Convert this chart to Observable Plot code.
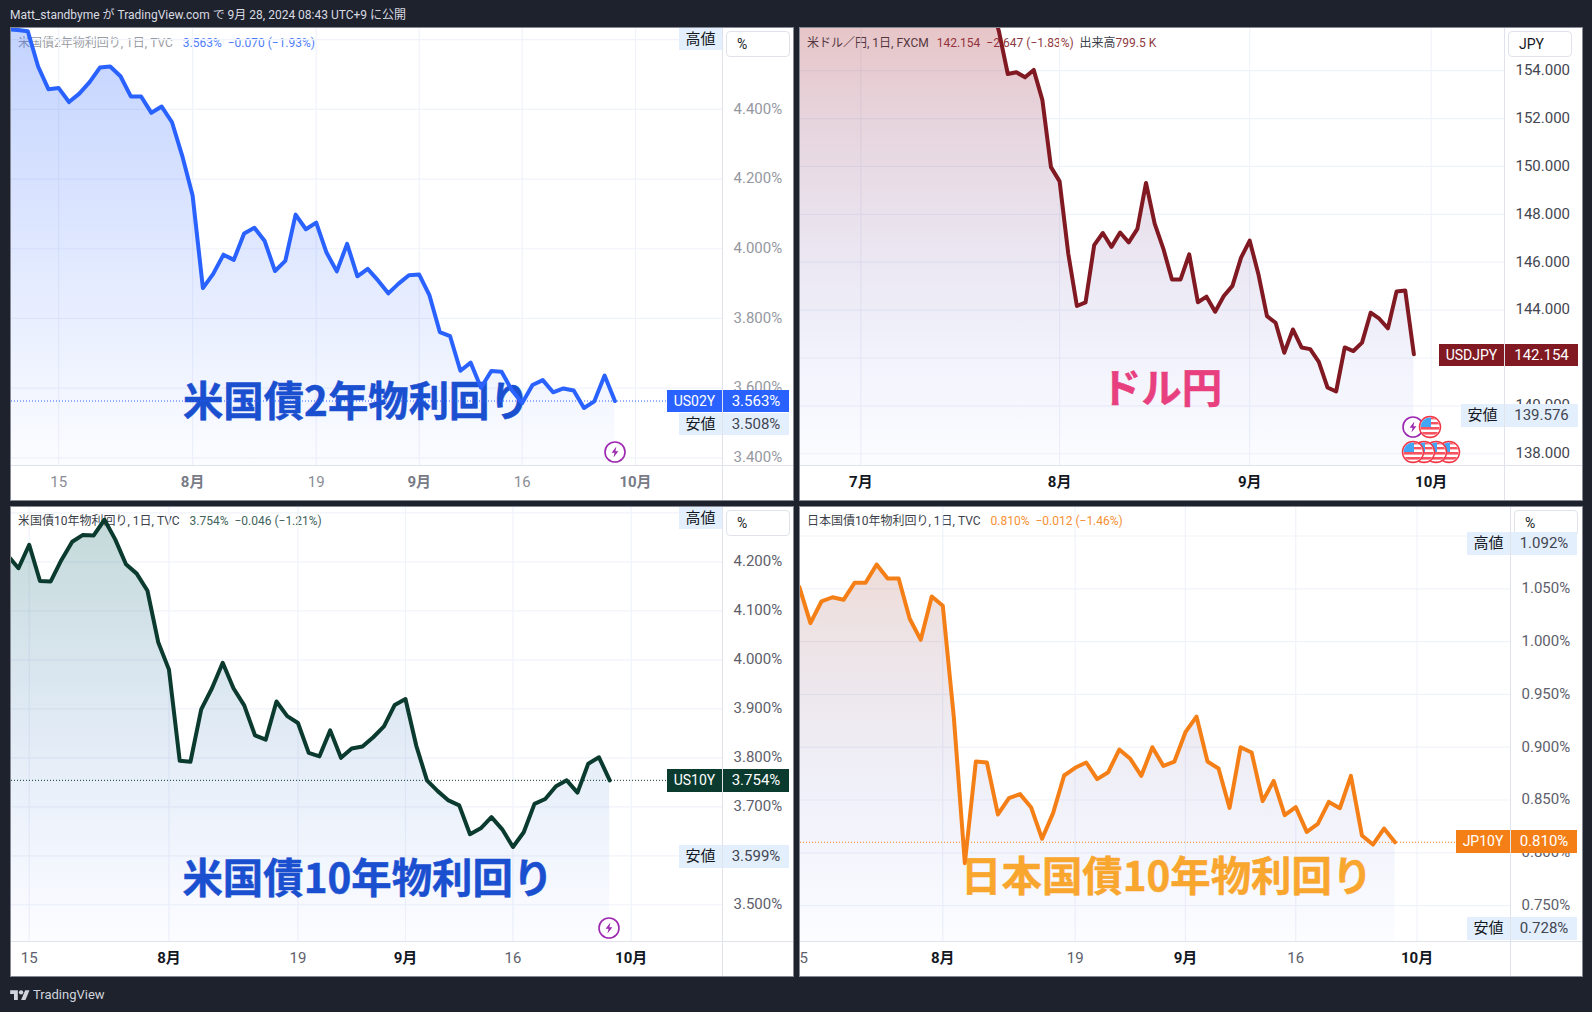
<!DOCTYPE html>
<html lang="ja">
<head>
<meta charset="utf-8">
<script src="https://cdn.jsdelivr.net/npm/d3@7"></script>
<script src="https://cdn.jsdelivr.net/npm/@observablehq/plot@0.6"></script>
<style>
html,body{margin:0;padding:0;background:#1e222d;}
body{position:relative;width:1592px;height:1012px;overflow:hidden;font-family:Roboto,"Noto Sans CJK JP",sans-serif;}
.abs{position:absolute;white-space:pre;box-sizing:border-box;}
</style>
</head>
<body>
<script>
// ---------- series values (one value per trading day)
const us02yStart = -1;
const us02yValues = [4.63,4.628,4.624,4.523,4.458,4.461,4.421,4.445,4.478,4.520,4.523,4.495,4.437,4.437,4.390,4.408,4.363,4.266,4.153,3.887,3.928,3.983,3.968,4.044,4.060,4.022,3.936,3.965,4.098,4.056,4.075,3.989,3.935,4.014,3.921,3.942,3.909,3.872,3.900,3.924,3.926,3.866,3.761,3.749,3.650,3.673,3.601,3.649,3.647,3.594,3.557,3.609,3.623,3.588,3.599,3.593,3.543,3.562,3.636,3.563];

const usdjpyStart = -8;
const usdjpyValues = [158.1,158.9,159.8,159.7,159.4,159.7,160.8,160.9,161.5,161.4,161.7,161.2,160.7,160.9,161.3,161.6,158.8,157.9,158.1,158.3,156.2,157.4,157.5,157.0,155.6,153.86,153.93,153.72,154.03,152.78,149.97,149.375,146.36,144.17,144.32,146.71,147.22,146.64,147.24,146.83,147.39,149.31,147.61,146.57,145.28,145.28,146.33,144.33,144.56,143.93,144.59,145.01,146.19,146.90,145.51,143.75,143.47,142.22,143.19,142.44,142.37,141.84,140.77,140.60,142.44,142.29,142.64,143.89,143.64,143.24,144.78,144.82,142.154];

const us10yStart = -2;
const us10yValues = [4.213,4.187,4.235,4.161,4.160,4.204,4.241,4.255,4.254,4.286,4.246,4.195,4.176,4.141,4.036,3.980,3.794,3.792,3.899,3.942,3.994,3.942,3.907,3.846,3.837,3.915,3.885,3.871,3.810,3.803,3.856,3.800,3.819,3.823,3.842,3.864,3.908,3.920,3.825,3.754,3.732,3.713,3.703,3.644,3.656,3.679,3.654,3.618,3.648,3.706,3.716,3.742,3.754,3.729,3.788,3.801,3.754];

const jp10yStart = -13;
const jp10yValues = [1.0516,1.0175,1.038,1.042,1.0396,1.0557,1.0557,1.073,1.0598,1.0598,1.0216,1.0017,1.0427,1.0339,0.9285,0.7902,0.8865,0.8855,0.8363,0.8518,0.8556,0.8432,0.8133,0.8376,0.8732,0.8805,0.8855,0.8698,0.8763,0.8978,0.889,0.8729,0.90,0.8823,0.8864,0.9142,0.929,0.8864,0.8798,0.8425,0.90,0.895,0.8489,0.8681,0.8356,0.8432,0.8198,0.8274,0.8482,0.8422,0.8729,0.8164,0.8078,0.823,0.810];

// ---------- ticks (grid lines; the labels that the chips cover fully are left out of the axis lists)
const us02yGrid = [3.4,3.6,3.8,4.0,4.2,4.4,4.6];
const us02yLabels = [3.4,3.6,3.8,4.0,4.2,4.4];
const usdjpyGrid = [138,140,142,144,146,148,150,152,154];
const usdjpyLabels = [138,140,144,146,148,150,152,154];
const us10yGrid = [3.5,3.6,3.7,3.8,3.9,4.0,4.1,4.2,4.3];
const us10yLabels = [3.5,3.7,3.8,3.9,4.0,4.1,4.2];
const jp10yGrid = [0.75,0.80,0.85,0.90,0.95,1.00,1.05,1.10];
const jp10yLabels = [0.75,0.80,0.85,0.90,0.95,1.00,1.05];

const us02yDayTicks = [[4,"15"],[29,"19"],[49,"16"]];
const us02yMonthTicks = [[17,"8月"],[39,"9月"],[60,"10月"]];
const usdjpyDayTicks = [];
const usdjpyMonthTicks = [[0,"7月"],[23,"8月"],[45,"9月"],[66,"10月"]];
const us10yDayTicks = [[0,"15"],[25,"19"],[45,"16"]];
const us10yMonthTicks = [[13,"8月"],[35,"9月"],[56,"10月"]];
const jp10yDayTicks = [[-13,"15"],[12,"19"],[32,"16"]];
const jp10yMonthTicks = [[0,"8月"],[22,"9月"],[43,"10月"]];

// ---------- panels: scale domains, geometry and styles
const panels = [
 {id:"a",values:us02yValues,start:us02yStart,grid:us02yGrid,ticks:us02yLabels,days:us02yDayTicks,months:us02yMonthTicks,digits:3,suffix:"%",
  box:[11,28,782,472],frame:[711,437],xDomain:[-0.583,68.447],yDomain:[3.378,4.632],
  color:"#2962ff",gradTop:"41,98,255",alpha:.28,
  yFill:"#9598a1",dayFill:"#8a8d96",monthFill:"#787b86",
  label:"米国債2年物利回り",labelColor:"#1a4fd0",labelAt:[32.9,3.557],dotted:3.563},
 {id:"b",values:usdjpyValues,start:usdjpyStart,grid:usdjpyGrid,ticks:usdjpyLabels,days:usdjpyDayTicks,months:usdjpyMonthTicks,digits:3,suffix:"",
  box:[800,28,782,472],frame:[704,437],xDomain:[-6.99,74.49],yDomain:[137.51,155.76],
  color:"#801922",gradTop:"160,25,34",alpha:.25,
  yFill:"#434651",dayFill:"#434651",monthFill:"#131722",
  label:"ドル円",labelColor:"#e8407e",labelAt:[34.8,140.68],dotted:null},
 {id:"c",values:us10yValues,start:us10yStart,grid:us10yGrid,ticks:us10yLabels,days:us10yDayTicks,months:us10yMonthTicks,digits:3,suffix:"%",
  box:[11,507,782,469],frame:[711,434],xDomain:[-1.647,64.49],yDomain:[3.425,4.311],
  color:"#0b3b2f",gradTop:"10,100,90",alpha:.25,
  yFill:"#5d606b",dayFill:"#5d606b",monthFill:"#131722",
  label:"米国債10年物利回り",labelColor:"#1a4fd0",labelAt:[31.5,3.551],dotted:3.754},
 {id:"d",values:jp10yValues,start:jp10yStart,grid:jp10yGrid,ticks:jp10yLabels,days:jp10yDayTicks,months:jp10yMonthTicks,digits:3,suffix:"%",
  box:[800,507,782,469],frame:[710,434],xDomain:[-12.90,51.47],yDomain:[0.716,1.127],
  color:"#f57f17",gradTop:"200,90,40",alpha:.24,
  yFill:"#5d606b",dayFill:"#5d606b",monthFill:"#131722",
  label:"日本国債10年物利回り",labelColor:"#f9a62f",labelAt:[20.3,0.7758],dotted:0.810}
];

const FONT = 'Roboto,"Noto Sans CJK JP",sans-serif';
const body = document.body;

function div(left,top,w,h,css,text){
  const d=document.createElement("div");
  d.className="abs";
  d.style.cssText=`left:${left}px;top:${top}px;`+(w!=null?`width:${w}px;`:"")+(h!=null?`height:${h}px;`:"")+(css||"");
  if(text!=null) d.textContent=text;
  body.appendChild(d);
  return d;
}
function legend(left,top,parts){
  const d=div(left,top,null,null,"font-size:12px;line-height:16px;");
  parts.forEach(([t,c,gap])=>{const s=document.createElement("span");s.textContent=t;s.style.color=c;if(gap)s.style.marginLeft=gap+"px";d.appendChild(s);});
}
function chip(left,top,w,h,bg,color,text,size){
  div(left,top,w,h,`background:${bg};color:${color};font-size:${size||15}px;line-height:${h}px;text-align:center;`,text);
}
function unitBox(left,top,text){
  div(left,top,64,26,`background:#fff;border:1px solid #e0e3eb;border-radius:4px;color:#131722;font-size:14px;line-height:25px;padding-left:10px;`,text);
}
function icon(kind,cx,cy){
  const r=10.5;
  const id="c"+Math.round(cx)+"_"+Math.round(cy);
  const inner = kind==="bolt"
   ? `<circle cx="12" cy="12" r="${r-0.5}" fill="#fff" stroke="#9c27b0" stroke-width="1.6"/><path d="M13.4 6.5 8.6 12.8h3l-1.2 4.8 5-6.4h-3z" fill="#9c27b0"/>`
   : `<defs><clipPath id="${id}"><circle cx="12" cy="12" r="${r-1}"/></clipPath></defs>
      <circle cx="12" cy="12" r="${r}" fill="#fff" stroke="#f23645" stroke-width="1.5"/>
      <g clip-path="url(#${id})"><rect x="0" y="12" width="24" height="2.6" fill="#f7525f"/><rect x="0" y="17" width="24" height="2.6" fill="#f7525f"/><rect x="0" y="21" width="24" height="3" fill="#f7525f"/>
      <rect x="12" y="2" width="12" height="2.4" fill="#f7525f"/><rect x="12" y="7" width="12" height="2.4" fill="#f7525f"/>
      <rect x="0" y="0" width="13" height="12" fill="#42a5f5"/></g>`;
  const d=div(cx-12,cy-12,24,24,"");
  d.innerHTML=`<svg width="24" height="24" viewBox="0 0 24 24" style="display:block">${inner}</svg>`;
}

// ---------- header
div(10,7,null,16,"color:#d9dbe1;font-size:12px;line-height:16px;font-weight:400;","Matt_standbyme が TradingView.com で 9月 28, 2024 08:43 UTC+9 に公開");

// ---------- panels
function drawPanel(p){
  const [L,T,W,H]=p.box;
  div(L-1,T-1,W+2,H+2,"background:#fff;border:1px solid #868993;");
}
function drawChart(p){
  const [L,T,W,H]=p.box, [fw,fh]=p.frame;
  const data=p.values.map((v,k)=>({i:p.start+k,v}));
  const allX=[...p.days,...p.months].map(d=>d[0]);
  const names=new Map([...p.days,...p.months]);
  const fmt=d=>d.toFixed(p.digits)+p.suffix;
  const gridColor="#f0f3fa";
  const svg=Plot.plot({
    width:W,height:H,
    marginLeft:0,marginTop:0,marginRight:W-fw,marginBottom:H-fh,
    style:{background:"transparent",overflow:"hidden",position:"absolute",left:L+"px",top:T+"px",maxWidth:"none",fontFamily:FONT},
    x:{type:"linear",domain:p.xDomain,axis:null},
    y:{type:"linear",domain:p.yDomain,axis:null},
    marks:[
      Plot.ruleY(p.grid,{stroke:gridColor,strokeWidth:1.2}),
      Plot.ruleX(allX,{stroke:gridColor,strokeWidth:1.2}),
      Plot.area(data,{x1:"i",y1:p.yDomain[0],y2:"v",fill:`url(#grad-${p.id})`}),
      Plot.axisY({anchor:"right",ticks:p.ticks,tickSize:0,tickPadding:11,tickFormat:fmt,label:null,fontSize:15,dy:-0.5,fill:p.yFill,fontFamily:FONT}),
      p.days.length?Plot.axisX({anchor:"bottom",ticks:p.days.map(d=>d[0]),tickSize:0,tickPadding:11,tickFormat:d=>names.get(d),label:null,fontSize:15,fill:p.dayFill,fontFamily:FONT}):null,
      Plot.axisX({anchor:"bottom",ticks:p.months.map(d=>d[0]),tickSize:0,tickPadding:11,tickFormat:d=>names.get(d),label:null,fontSize:15,fontWeight:700,fill:p.monthFill,fontFamily:FONT}),
      Plot.text([p.label],{x:p.labelAt[0],y:p.labelAt[1],text:d=>d,fontSize:40.4,fontWeight:700,fill:p.labelColor,stroke:p.labelColor,strokeWidth:0.5,fontFamily:'"Noto Sans CJK JP",sans-serif',textAnchor:"middle",lineAnchor:"middle"}),
      p.dotted!=null?Plot.ruleY([p.dotted],{stroke:p.color,strokeWidth:1,strokeDasharray:"1,2"}):null,
      Plot.line(data,{x:"i",y:"v",stroke:p.color,strokeWidth:4})
    ]
  });
  svg.insertAdjacentHTML("afterbegin",`<defs><linearGradient id="grad-${p.id}" gradientUnits="userSpaceOnUse" x1="0" y1="0" x2="0" y2="${fh}"><stop offset="0" stop-color="rgb(${p.gradTop})" stop-opacity="${p.alpha}"/><stop offset="1" stop-color="rgb(41,98,255)" stop-opacity="0.015"/></linearGradient></defs>`);
  body.appendChild(svg);
  div(L+fw,T,1,H,"background:#e0e3eb;");
  div(L,T+fh,W,1,"background:#e0e3eb;");
}

const grey="#9a9ca3", dark="#3c3f4a", chipBg="#e3effd";

// panel backgrounds + legends go under the chart, so the line crosses them
panels.forEach(drawPanel);
legend(18,35,[["米国債2年物利回り, 1日, TVC",grey],["3.563%  −0.070 (−1.93%)","#4f7dfb",10]]);
legend(807,35,[["米ドル／円, 1日, FXCM",dark],["142.154  −2.647 (−1.83%)  ","#8f3a42",8],["出来高",dark],["799.5 K","#8f3a42"]]);
legend(18,513,[["米国債10年物利回り, 1日, TVC",dark],["3.754%  −0.046 (−1.21%)","#3f635a",10]]);
legend(807,513,[["日本国債10年物利回り, 1日, TVC",dark],["0.810%  −0.012 (−1.46%)","#f68f33",10]]);
panels.forEach(drawChart);

// ---------- price scale chips (upper-left panel)
chip(679,28,43,22,chipBg,"#131722","高値");
unitBox(726,31,"%");
chip(667,390,55,22,"#2962ff","#fff","US02Y",14);
chip(723,390,66,22,"#2962ff","#fff","3.563%",15);
chip(679,413,43,22,chipBg,"#131722","安値");
chip(723,413,66,22,chipBg,"#434651","3.508%",15);
icon("bolt",615,452);

// upper-right panel
unitBox(1508,31,"JPY");
chip(1439,344,65,22,"#801922","#fff","USDJPY",14);
chip(1505,344,73,22,"#801922","#fff","142.154",15);
chip(1461,404,43,23,chipBg,"#131722","安値");
chip(1505,404,73,23,chipBg,"#434651","139.576",15);
icon("flag",1449,452);icon("flag",1436,452);icon("flag",1424,452);icon("flag",1413,452);
icon("bolt",1413,427);icon("flag",1430,427);

// lower-left panel
chip(679,507,43,22,chipBg,"#131722","高値");
unitBox(726,510,"%");
chip(667,769,55,23,"#0b3b2f","#fff","US10Y",14);
chip(723,769,66,23,"#0b3b2f","#fff","3.754%",15);
chip(679,845,43,23,chipBg,"#131722","安値");
chip(723,845,66,23,chipBg,"#434651","3.599%",15);
icon("bolt",609,928);

// lower-right panel
unitBox(1514,510,"%");
chip(1467,532,43,23,chipBg,"#131722","高値");
chip(1511,532,66,23,chipBg,"#434651","1.092%",15);
chip(1456,830,54,23,"#f57f17","#fff","JP10Y",14);
chip(1511,830,66,23,"#f57f17","#fff","0.810%",15);
chip(1467,917,43,23,chipBg,"#131722","安値");
chip(1511,917,66,23,chipBg,"#434651","0.728%",15);

// ---------- footer
const logo=div(10,988,20,12,"");
logo.innerHTML=`<svg width="20" height="12" viewBox="0 0 36 22" style="display:block"><path fill="#d1d4dc" d="M14 22H7V11H0V4h14v18zM28 22h-8l7.5-18h8L28 22z"/><circle cx="20" cy="8" r="4" fill="#d1d4dc"/></svg>`;
div(33,986,null,18,"color:#d1d4dc;font-size:13px;line-height:18px;","TradingView");
</script>
</body>
</html>
